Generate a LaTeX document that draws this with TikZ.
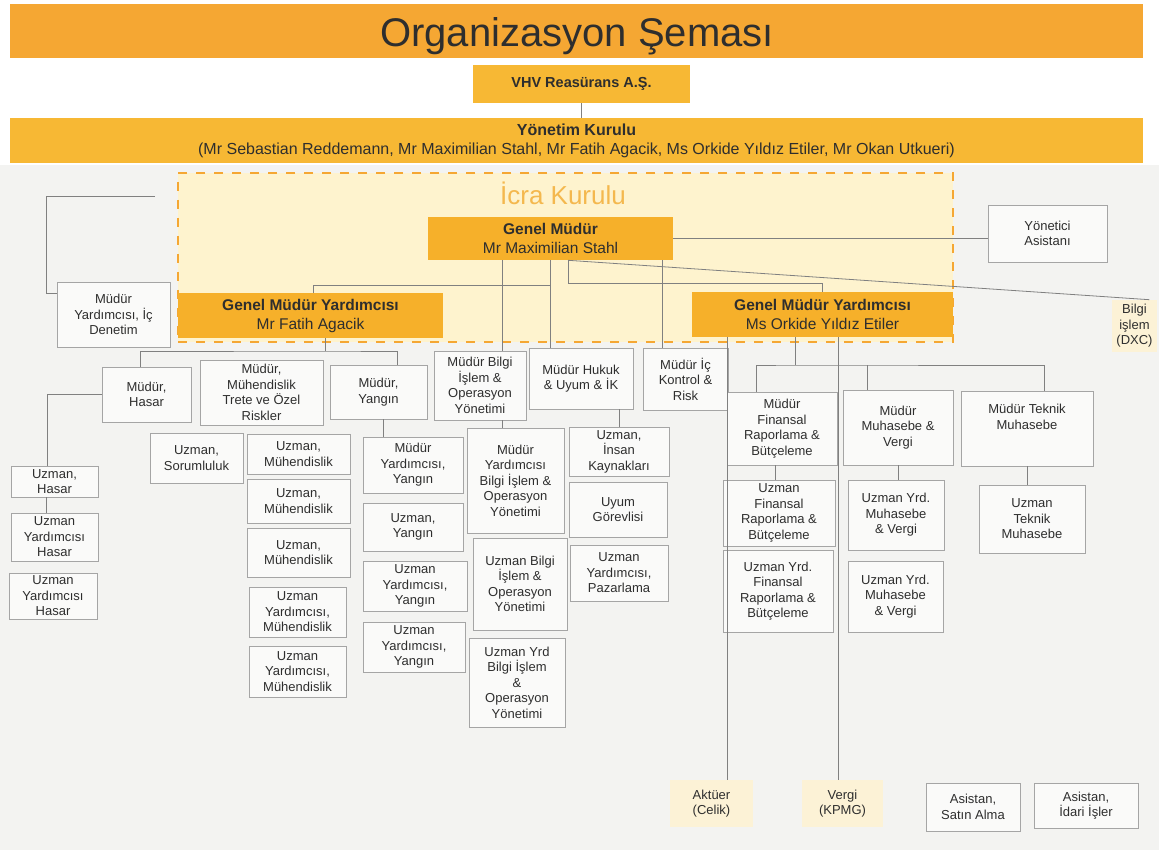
\documentclass[tikz,border=0pt]{standalone}
\usepackage{fontspec}
\setmainfont{Liberation Sans}
\usepackage{xcolor}
\usepackage{tikz}
\definecolor{baslik}{HTML}{F5A733}
\definecolor{sari}{HTML}{F7B834}
\definecolor{koyusari}{HTML}{F6B02A}
\definecolor{krem}{HTML}{FEF3CE}
\definecolor{dissari}{HTML}{FCF2D6}
\definecolor{zemin}{HTML}{F3F3F1}
\definecolor{cizgi}{HTML}{808080}
\definecolor{cerceve}{HTML}{A5A5A5}
\definecolor{icrayazi}{HTML}{F4B84E}
\definecolor{yazi}{HTML}{2E2E2E}

\begin{document}
\begin{tikzpicture}[x=1pt, y=-1pt, semithick,
    kutu/.style 2 args={draw=cerceve, line width=0.7pt, fill=white!55!zemin, minimum width=#1pt, minimum height=#2pt,
        inner sep=0pt, align=center, text=yazi, font=\fontsize{13}{15.5}\selectfont},
    dis/.style 2 args={fill=dissari, minimum width=#1pt, minimum height=#2pt,
        inner sep=0pt, align=center, text=yazi, font=\fontsize{13}{15.5}\selectfont},
    bant/.style={inner sep=0pt, align=center, text=yazi},
    yonetici/.style={fill=koyusari, inner sep=0pt, align=center, text=yazi, font=\fontsize{15.5}{19}\selectfont}]
    \tikzstyle{hat}=[draw=cizgi, line width=0.8pt]

    % Zemin
    \useasboundingbox (0,0) rectangle (1159,850);
    \fill[white] (0,0) rectangle (1159,850);
    \fill[zemin] (0,165) rectangle (1159,850);

    % Baslik ve yonetim kurulu
    \node[bant, fill=baslik, minimum width=1133pt, minimum height=54pt]
                                  (baslik)   at (576.5,31)    {};
    \node[bant, font=\fontsize{40}{44}\selectfont]
                                  (baslikyazi) at (577,36)    {Organizasyon Şeması};
    \node[bant, fill=sari, minimum width=217pt, minimum height=38pt, font=\bfseries\fontsize{14.5}{17}\selectfont]
                                  (vhv)      at (581.5,84)    {VHV Reasürans A.Ş.};
    \node[bant, fill=sari, minimum width=1133pt, minimum height=45pt, font=\fontsize{16}{19}\selectfont]
                                  (yk)       at (576.5,140.5) {\textbf{Yönetim Kurulu}\\(Mr Sebastian Reddemann, Mr Maximilian Stahl, Mr Fatih Agacik, Ms Orkide Yıldız Etiler, Mr Okan Utkueri)};

    % Icra kurulu
    \node[draw=baslik, line width=2.4pt, dash pattern=on 9pt off 9pt, fill=krem, minimum width=775pt, minimum height=169pt]
                                  (icra)     at (565.5,257.5) {};
    \node[text=icrayazi, font=\fontsize{26}{30}\selectfont]
                                  (icraad)   at (563,193)     {İcra Kurulu};
    \node[yonetici, minimum width=245pt, minimum height=43pt]
                                  (gm)       at (550.5,238.5) {\textbf{Genel Müdür}\\Mr Maximilian Stahl};
    \node[yonetici, minimum width=265pt, minimum height=45pt]
                                  (gmy1)     at (310.5,315.5) {\textbf{Genel Müdür Yardımcısı}\\Mr Fatih Agacik};
    \node[yonetici, minimum width=261pt, minimum height=45pt]
                                  (gmy2)     at (822.5,314.5) {\textbf{Genel Müdür Yardımcısı}\\Ms Orkide Yıldız Etiler};

    % Yan birimler
    \node[kutu={119}{57}]         (yonasist) at (1047.5,233.5) {Yönetici\\Asistanı};
    \node[dis={45}{52}]           (bilgi)    at (1134.5,326)   {Bilgi\\işlem\\(DXC)};
    \node[kutu={113}{65}]         (icdenetim) at (113.5,314.5) {Müdür\\Yardımcısı, İç\\Denetim};

    % Fatih Agacik alti
    \node[kutu={89}{55}]          (mhasar)   at (146.5,394.5) {Müdür,\\Hasar};
    \node[kutu={123}{65}]         (mmuh)     at (261.5,392.5) {Müdür,\\Mühendislik\\Trete ve Özel\\Riskler};
    \node[kutu={97}{54}]          (myangin)  at (378.5,392)   {Müdür,\\Yangın};
    \node[kutu={87}{31}]          (uzhasar)  at (54.5,481.5)  {Uzman,\\Hasar};
    \node[kutu={87}{48}]          (uzyhasar1) at (54.5,537)   {Uzman\\Yardımcısı\\Hasar};
    \node[kutu={88}{46}]          (uzyhasar2) at (53,596)     {Uzman\\Yardımcısı\\Hasar};
    \node[kutu={93}{50}]          (uzsor)    at (196.5,458)   {Uzman,\\Sorumluluk};
    \node[kutu={103}{40}]         (uzmuh1)   at (298.5,454)   {Uzman,\\Mühendislik};
    \node[kutu={103}{44}]         (uzmuh2)   at (298.5,501)   {Uzman,\\Mühendislik};
    \node[kutu={103}{49}]         (uzmuh3)   at (298.5,552.5) {Uzman,\\Mühendislik};
    \node[kutu={97}{50}]          (uzymuh1)  at (297.5,612)   {Uzman\\Yardımcısı,\\Mühendislik};
    \node[kutu={97}{51}]          (uzymuh2)  at (297.5,671.5) {Uzman\\Yardımcısı,\\Mühendislik};
    \node[kutu={100}{56}]         (mydyangin) at (413,465)    {Müdür\\Yardımcısı,\\Yangın};
    \node[kutu={100}{48}]         (uzyangin) at (413,527)     {Uzman,\\Yangın};
    \node[kutu={104}{50}]         (uzyyangin1) at (415,586)   {Uzman\\Yardımcısı,\\Yangın};
    \node[kutu={102}{50}]         (uzyyangin2) at (414,647)   {Uzman\\Yardımcısı,\\Yangın};

    % Genel mudure bagli
    \node[kutu={92}{69}]          (mbilgi)   at (480,385.5)   {Müdür Bilgi\\İşlem \&\\Operasyon\\Yönetimi};
    \node[kutu={104}{61}]         (mhukuk)   at (581,378.5)   {Müdür Hukuk\\\& Uyum \& İK};
    \node[kutu={85}{62}]          (mickontrol) at (685.5,379) {Müdür İç\\Kontrol \&\\Risk};
    \node[kutu={97}{105}]         (mydbilgi) at (515.5,480.5) {Müdür\\Yardımcısı\\Bilgi İşlem \&\\Operasyon\\Yönetimi};
    \node[kutu={94}{92}]          (uzbilgi)  at (520,584)     {Uzman Bilgi\\İşlem \&\\Operasyon\\Yönetimi};
    \node[kutu={96}{89}]          (uzybilgi) at (517,682.5)   {Uzman Yrd\\Bilgi İşlem\\\&\\Operasyon\\Yönetimi};
    \node[kutu={100}{49}]         (uzik)     at (619,451.5)   {Uzman,\\İnsan\\Kaynakları};
    \node[kutu={98}{55}]          (uyum)     at (618,509.5)   {Uyum\\Görevlisi};
    \node[kutu={98}{56}]          (uzypaz)   at (619,573)     {Uzman\\Yardımcısı,\\Pazarlama};

    % Orkide Yildiz Etiler alti
    \node[kutu={110}{73}]         (mfin)     at (782,428.5)   {Müdür\\Finansal\\Raporlama \&\\Bütçeleme};
    \node[kutu={110}{75}]         (mmuhasebe) at (898,427.5)  {Müdür\\Muhasebe \&\\Vergi};
    \node[kutu={132}{75}]         (mteknik)  at (1027,428.5)  {Müdür Teknik\\Muhasebe\\[1.1ex]};
    \node[kutu={112}{66}]         (uzfin)    at (779,513)     {Uzman\\Finansal\\Raporlama \&\\Bütçeleme};
    \node[kutu={110}{82}]         (uzyfin)   at (778,591)     {Uzman Yrd.\\Finansal\\Raporlama \&\\Bütçeleme};
    \node[kutu={96}{70}]          (uzymuhasebe1) at (896,515) {Uzman Yrd.\\Muhasebe\\\& Vergi};
    \node[kutu={95}{71}]          (uzymuhasebe2) at (895.5,596.5) {Uzman Yrd.\\Muhasebe\\\& Vergi};
    \node[kutu={106}{68}]         (uzteknik) at (1032,519)    {Uzman\\Teknik\\Muhasebe};

    % Alt sira
    \node[dis={83}{47}]           (aktuer)   at (711.5,803.5) {Aktüer\\(Celik)};
    \node[dis={81}{47}]           (vergi)    at (842.5,803.5) {Vergi\\(KPMG)};
    \node[kutu={94}{48}]          (asatin)   at (973,807)     {Asistan,\\Satın Alma};
    \node[kutu={104}{45}]         (aidari)   at (1086,805.5)  {Asistan,\\İdari İşler};

    % Baglantilar
    \coordinate (b1)      at (550.5,285);
    \coordinate (b2)      at (568,283);
    \coordinate (bus1)    at (325,351);
    \coordinate (bus2)    at (795,365);
    \coordinate (serbest) at (155,196);

    \draw[hat] (vhv.south) -- (vhv.south |- yk.north);
    \draw[hat] (gm.east) -- (gm.east -| yonasist.west);
    \draw[hat] (gm.south) -- (gm.south |- mhukuk.north);
    \draw[hat] (b1) -| ([xshift=2.5pt]gmy1.north);
    \draw[hat] ([xshift=22pt]mbilgi.north) -- ([xshift=22pt]mbilgi.north |- gm.south);
    \draw[hat] ([xshift=-23.5pt]mickontrol.north) -- ([xshift=-23.5pt]mickontrol.north |- gm.south);
    \draw[hat] (b2 |- gm.south) -- (b2) -| (gmy2.north);
    \draw[hat] (b2 |- gm.south) -- ([xshift=-8pt]bilgi.north east);
    \draw[hat] (serbest) -| ([xshift=-10pt,yshift=21.5pt]icdenetim.west) -- ([yshift=21.5pt]icdenetim.west);

    % Fatih Agacik dallari
    \draw[hat] ([xshift=14.5pt]gmy1.south) -- (bus1);
    \draw[hat] ([xshift=-6.5pt]mhasar.north) |- (bus1) -| ([xshift=18.5pt]myangin.north);
    \draw[hat] (mhasar.west) -| ([xshift=-7.5pt]uzhasar.north);
    \draw[hat] ([xshift=-8.5pt]uzhasar.south) -- ([xshift=-8.5pt]uzhasar.south |- uzyhasar1.north);
    \draw[hat] ([xshift=4.5pt]myangin.south) -- ([xshift=4.5pt]myangin.south |- mydyangin.north);

    % Orta dallar
    \draw[hat] ([xshift=22pt]mbilgi.south) -- ([xshift=22pt]mbilgi.south |- mydbilgi.north);
    \draw[hat] (uzik.north) -- (uzik.north |- mhukuk.south);

    % Orkide Yildiz Etiler dallari
    \draw[hat] ([xshift=15.5pt]aktuer.north) -- ([xshift=15.5pt]aktuer.north |- gmy2.south);
    \draw[hat] ([xshift=-4.5pt]vergi.north) -- ([xshift=-4.5pt]vergi.north |- gmy2.south);
    \draw[hat] (bus2 |- gmy2.south) -- (bus2);
    \draw[hat] ([xshift=-26pt]mfin.north) |- (bus2) -| ([xshift=17pt]mteknik.north);
    \draw[hat] ([xshift=-31pt]mmuhasebe.north) -- ([xshift=-31pt]mmuhasebe.north |- bus2);
    \draw[hat] ([xshift=-7pt]mfin.south) -- ([xshift=-7pt]mfin.south |- uzfin.north);
    \draw[hat] (mmuhasebe.south) -- (mmuhasebe.south |- uzymuhasebe1.north);
    \draw[hat] (mteknik.south) -- (mteknik.south |- uzteknik.north);
\end{tikzpicture}
\end{document}
